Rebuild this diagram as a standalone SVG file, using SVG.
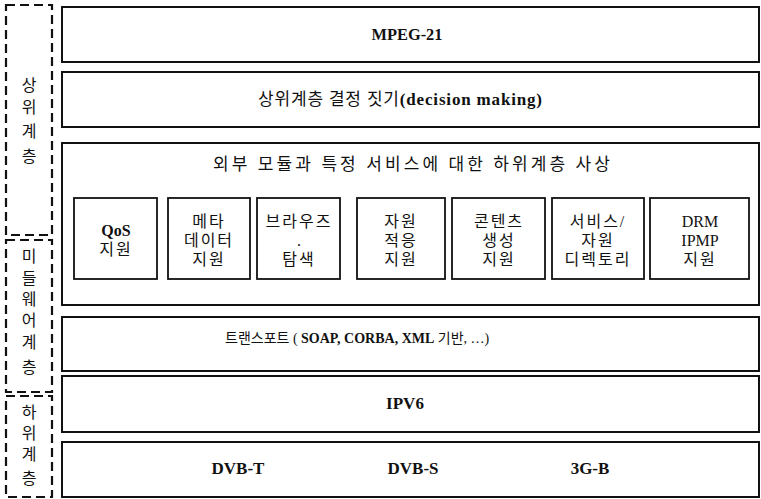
<svg xmlns="http://www.w3.org/2000/svg" width="761" height="499" viewBox="0 0 761 499">
<style>
.bg{fill:#ffffff}
.box{fill:#ffffff;stroke:#111;stroke-width:2}
.ibox{fill:#ffffff;stroke:#111;stroke-width:1.8}
.dash{fill:none;stroke:#111;stroke-width:2.2;stroke-dasharray:9 5}
text{font-family:"Liberation Serif","Noto Sans CJK KR",serif;fill:#111}
.t{font-size:17px}
.b{font-weight:bold}
.it{font-size:16px;text-anchor:middle;letter-spacing:2px}
.lt{font-size:16px;text-anchor:middle}
.v{font-size:16px;text-anchor:middle}
.c{text-anchor:middle}
</style>
<rect class="bg" x="0" y="0" width="761" height="499"/>

<g id="upper-layer-label">
<rect class="dash" x="6" y="5" width="46" height="230"/>
<text class="v" x="29" y="91">상</text>
<text class="v" x="29" y="113">위</text>
<text class="v" x="29" y="137">계</text>
<text class="v" x="29" y="162">층</text>
</g>
<g id="middleware-layer-label">
<rect class="dash" x="6" y="240" width="46" height="152"/>
<text class="v" x="29" y="262">미</text>
<text class="v" x="29" y="284">들</text>
<text class="v" x="29" y="305">웨</text>
<text class="v" x="29" y="326">어</text>
<text class="v" x="29" y="348">계</text>
<text class="v" x="29" y="373">층</text>
</g>
<g id="lower-layer-label">
<rect class="dash" x="6" y="396" width="46" height="101"/>
<text class="v" x="29" y="418">하</text>
<text class="v" x="29" y="439">위</text>
<text class="v" x="29" y="460">계</text>
<text class="v" x="29" y="484">층</text>
</g>

<g id="mpeg21">
<rect class="box" x="62" y="7" width="697" height="55"/>
<text class="t b c" x="407" y="40" textLength="71" lengthAdjust="spacingAndGlyphs">MPEG-21</text>
</g>
<g id="decision-making">
<rect class="box" x="62" y="72" width="697" height="55"/>
<text class="t" x="258" y="105" textLength="284">상위계층 결정 짓기<tspan class="b">(decision making)</tspan></text>
</g>
<g id="mapping">
<rect class="box" x="62" y="143" width="697" height="162"/>
<text class="t" x="213" y="170" textLength="397">외부 모듈과 특정 서비스에 대한 하위계층 사상</text>
</g>
<g id="qos">
<rect class="ibox" x="74" y="198" width="83" height="81"/>
<text class="lt b" x="116" y="236">QoS</text>
<text class="it" x="116" y="255">지원</text>
</g>
<g id="metadata">
<rect class="ibox" x="168" y="198" width="82" height="81"/>
<text class="it" x="209" y="227">메타</text>
<text class="it" x="209" y="246">데이터</text>
<text class="it" x="209" y="265">지원</text>
</g>
<g id="browse">
<rect class="ibox" x="257" y="198" width="83" height="81"/>
<text class="it" x="299" y="227">브라우즈</text>
<text class="lt" x="299" y="246">.</text>
<text class="it" x="299" y="265">탐색</text>
</g>
<g id="resource-adaptation">
<rect class="ibox" x="357" y="198" width="88" height="81"/>
<text class="it" x="401" y="227">자원</text>
<text class="it" x="401" y="246">적응</text>
<text class="it" x="401" y="265">지원</text>
</g>
<g id="content-creation">
<rect class="ibox" x="452" y="198" width="93" height="81"/>
<text class="it" x="499" y="227">콘텐츠</text>
<text class="it" x="499" y="246">생성</text>
<text class="it" x="499" y="265">지원</text>
</g>
<g id="service-directory">
<rect class="ibox" x="552" y="198" width="92" height="81"/>
<text class="it" x="598" y="227">서비스/</text>
<text class="it" x="598" y="246">자원</text>
<text class="it" x="598" y="265">디렉토리</text>
</g>
<g id="drm-ipmp">
<rect class="ibox" x="650" y="198" width="99" height="81"/>
<text class="lt" x="700" y="227">DRM</text>
<text class="lt" x="700" y="246">IPMP</text>
<text class="it" x="700" y="265">지원</text>
</g>
<g id="transport">
<rect class="box" x="62" y="317" width="697" height="54"/>
<text x="225" y="343" style="font-size:14px">트랜스포트 ( <tspan class="b">SOAP, CORBA, XML</tspan> 기반, …)</text>
</g>
<g id="ipv6">
<rect class="box" x="62" y="376" width="697" height="56"/>
<text class="t b c" x="405" y="409">IPV6</text>
</g>
<g id="physical">
<rect class="box" x="62" y="442" width="697" height="55"/>
<text class="t b c" x="238" y="474">DVB-T</text>
<text class="t b c" x="413" y="474">DVB-S</text>
<text class="t b c" x="590" y="474">3G-B</text>
</g>
<g id="connectors"></g>
</svg>
